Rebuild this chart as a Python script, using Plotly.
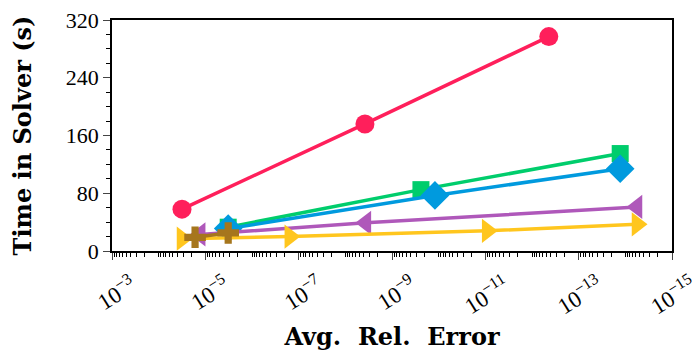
import plotly.graph_objects as go

# Avg. relative error (x) and solver time in seconds (y), one pair of lists per series
red_x = [10**-4.5, 10**-8.42, 10**-12.36]
red_y = [58, 176, 297]
green_x = [10**-5.49, 10**-9.62, 10**-13.89]
green_y = [33, 85, 135]
blue_x = [10**-5.49, 10**-9.92, 10**-13.89]
blue_y = [31, 77, 114]
purple_x = [10**-4.89, 10**-8.44, 10**-14.25]
purple_y = [23, 39, 61]
yellow_x = [10**-4.5, 10**-6.81, 10**-11.04, 10**-14.25]
yellow_y = [17, 20, 28, 37]
brown_x = [10**-4.78, 10**-5.49]
brown_y = [19, 25]

x_tickvals = [1e-3, 1e-5, 1e-7, 1e-9, 1e-11, 1e-13, 1e-15]
x_ticktext = ["10<sup>−3</sup>", "10<sup>−5</sup>", "10<sup>−7</sup>", "10<sup>−9</sup>",
              "10<sup>−11</sup>", "10<sup>−13</sup>", "10<sup>−15</sup>"]
y_tickvals = [0, 80, 160, 240, 320]

series = [
    (red_x, red_y, "#FF1F5B", "circle", 19),
    (green_x, green_y, "#00CD6C", "square", 17),
    (blue_x, blue_y, "#009ADE", "diamond", 22),
    (purple_x, purple_y, "#AF58BA", "triangle-left", 21),
    (yellow_x, yellow_y, "#FFC61E", "triangle-right", 21),
    (brown_x, brown_y, "#A6761D", "cross", 18),
]

fig = go.Figure()
for xs, ys, color, symbol, size in series:
    fig.add_trace(go.Scatter(
        x=xs, y=ys, mode="lines+markers",
        line=dict(color=color, width=3.5),
        marker=dict(color=color, symbol=symbol, size=size, line=dict(width=0)),
        showlegend=False, cliponaxis=False,
    ))

font = "Liberation Serif, DejaVu Serif, serif"
title_font = dict(family="DejaVu Serif", size=24, color="black")
# the page body adds an 8px offset, so margins are shifted to compensate
fig.update_layout(
    width=700, height=360,
    margin=dict(l=104, r=36, t=12, b=117),
    paper_bgcolor="white", plot_bgcolor="white",
    font=dict(family=font, size=22, color="black"),
)
fig.update_xaxes(
    type="log", range=[-3, -15], automargin=False,
    tickvals=x_tickvals, ticktext=x_ticktext, tickangle=-32,
    ticklabelshift=-20, ticklabelstandoff=4, ticklabeloverflow="allow",
    ticks="outside", ticklen=7, tickwidth=1.2,
    minor=dict(ticks="outside", ticklen=4, dtick="D1", tickcolor="black"),
    showline=True, linecolor="black", linewidth=1.5, mirror=True,
    showgrid=False, zeroline=False,
    title=dict(text="<b>Avg.&nbsp;&nbsp;Rel.&nbsp;&nbsp;Error</b>", font=title_font, standoff=10),
    tickfont=dict(size=23),
)
fig.update_yaxes(
    range=[0, 320], tickvals=y_tickvals, automargin=False,
    ticklabeloverflow="allow",
    ticks="outside", ticklen=7, tickwidth=1.2,
    minor=dict(ticks="outside", ticklen=4, dtick=20, tickcolor="black"),
    showline=True, linecolor="black", linewidth=1.5, mirror=True,
    showgrid=False, zeroline=False,
    title=dict(text="<b>Time in Solver (s)</b>", font=title_font, standoff=28),
    tickfont=dict(size=22),
)

fig.write_html("out.html")
